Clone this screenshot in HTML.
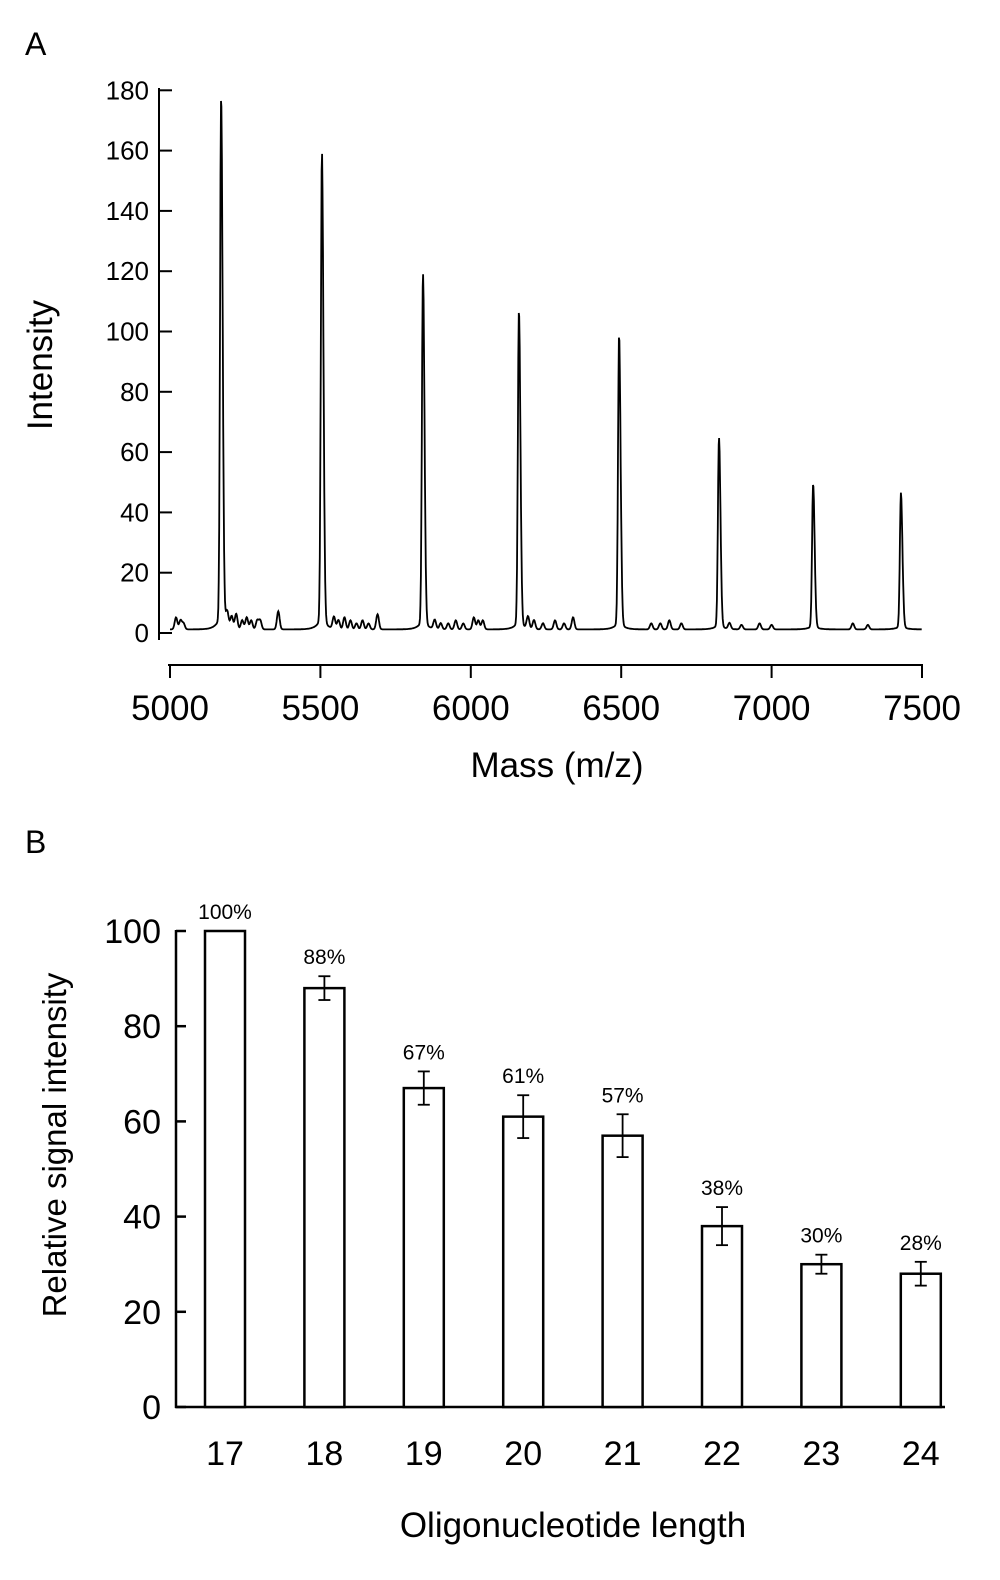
<!DOCTYPE html>
<html><head><meta charset="utf-8"><style>
body{margin:0;background:#fff}
svg text{font-family:"Liberation Sans",Arial,sans-serif;fill:#000}
</style></head><body>
<svg id="fig" width="1000" height="1575" viewBox="0 0 1000 1575" xmlns="http://www.w3.org/2000/svg">
<text x="25" y="55" font-size="32">A</text>
<text x="25" y="853" font-size="32">B</text>
<g id="a"></g>
<g id="b"></g>
</svg>
<script>
const peakMasses=[5170,5505,5841,6160,6493,6825,7138,7430];
const peakHeights=[172,154,115,103,95,62,47,44];
const noiseMasses=[5020,5035,5045,5190,5205,5220,5240,5255,5270,5290,5300,5360,5545,5560,5580,5600,5620,5640,5660,5690,5880,5900,5925,5950,5975,6010,6025,6040,6190,6210,6240,6280,6310,6340,6600,6630,6660,6700,6860,6900,6960,7000,7270,7320];
const noiseHeights=[4,3,2,5,4,5,3,4,3,3,3,6,4,3,4,3,2,3,2,5,3,2,2,3,2,4,3,3,4,3,2,3,2,4,2,2,3,2,2,1.5,2,1.5,2,1.5];
const yTicksA=[0,20,40,60,80,100,120,140,160,180];
const xTicksA=[5000,5500,6000,6500,7000,7500];
const categories=["17","18","19","20","21","22","23","24"];
const values=[100,88,67,61,57,38,30,28];
const errors=[0,2.5,3.5,4.5,4.5,4,2,2.5];
const valueLabels=["100%","88%","67%","61%","57%","38%","30%","28%"];
const yTicksB=[0,20,40,60,80,100];

const NS="http://www.w3.org/2000/svg";
function mk(p,t,a){const e=document.createElementNS(NS,t);for(const k in a)e.setAttribute(k,a[k]);p.appendChild(e);return e;}
// Panel A
const A=document.getElementById('a');
const xA=m=>170+(m-5000)/500*150.4;
const yA=v=>633-v/20*60.3;
let l=mk(A,'line',{x1:159,y1:88,x2:159,y2:640,stroke:'#000','stroke-width':2});

yTicksA.forEach(v=>{
 let t=mk(A,'line',{x1:159,x2:172,y1:yA(v),y2:yA(v),stroke:'#000','stroke-width':2});
 
 let tx=mk(A,'text',{x:149,y:yA(v)+9,'font-size':26,'text-anchor':'end'});tx.textContent=v;
 
});
l=mk(A,'line',{x1:168,y1:665,x2:923,y2:665,stroke:'#000','stroke-width':2});

xTicksA.forEach(v=>{
 let t=mk(A,'line',{x1:xA(v),x2:xA(v),y1:665,y2:678,stroke:'#000','stroke-width':2});
 
 let tx=mk(A,'text',{x:xA(v),y:720,'font-size':35,'text-anchor':'middle'});tx.textContent=v;
 
});
let t=mk(A,'text',{x:557,y:777,'font-size':35,'text-anchor':'middle'});t.textContent='Mass (m/z)';

t=mk(A,'text',{x:0,y:0,'font-size':35,'text-anchor':'middle',transform:'translate(52,365) rotate(-90)'});t.textContent='Intensity';

let pts=[];
for(let m=5000;m<=7500;m+=1.5){
 let v=1.2;
 peakMasses.forEach((p,i)=>{const d=m-p;const s=d<0?3.5:5;v+=peakHeights[i]*Math.exp(-d*d/(2*s*s))+peakHeights[i]*0.03*Math.exp(-Math.abs(d)/15);});
 noiseMasses.forEach((p,i)=>{const d=m-p;v+=noiseHeights[i]*Math.exp(-d*d/(2*20));});
 pts.push(xA(m).toFixed(1)+','+yA(v).toFixed(1));
}
let sp=mk(A,'polyline',{points:pts.join(' '),fill:'none',stroke:'#000','stroke-width':1.8});

// Panel B
const B=document.getElementById('b');
const yB=v=>1407-v/20*95.2;
const xB=i=>225+i*99.4;
l=mk(B,'line',{x1:176,y1:930,x2:176,y2:1408,stroke:'#000','stroke-width':2.5});

l=mk(B,'line',{x1:175,y1:1407,x2:945,y2:1407,stroke:'#000','stroke-width':2.5});

yTicksB.forEach(v=>{
 let tk=mk(B,'line',{x1:176,x2:186,y1:yB(v),y2:yB(v),stroke:'#000','stroke-width':2.5});
 
 let tx=mk(B,'text',{x:161,y:yB(v)+12,'font-size':34,'text-anchor':'end'});tx.textContent=v;
 
});
categories.forEach((c,i)=>{
 const cx=xB(i);
 let r=mk(B,'rect',{x:cx-20,y:yB(values[i]),width:40,height:yB(0)-yB(values[i]),fill:'#fff',stroke:'#000','stroke-width':2.5});
 
 if(errors[i]>0){
  const g=mk(B,'g',{stroke:'#000','stroke-width':1.8});
  
  mk(g,'line',{x1:cx,x2:cx,y1:yB(values[i]+errors[i]),y2:yB(values[i]-errors[i])});
  mk(g,'line',{x1:cx-6,x2:cx+6,y1:yB(values[i]+errors[i]),y2:yB(values[i]+errors[i])});
  mk(g,'line',{x1:cx-6,x2:cx+6,y1:yB(values[i]-errors[i]),y2:yB(values[i]-errors[i])});
 }
 let lb=mk(B,'text',{x:cx,y:yB(values[i]+errors[i])-12,'font-size':21,'text-anchor':'middle'});lb.textContent=valueLabels[i];
 
 let tx=mk(B,'text',{x:cx,y:1465,'font-size':34,'text-anchor':'middle'});tx.textContent=c;
 
});
t=mk(B,'text',{x:573,y:1537,'font-size':35,'text-anchor':'middle'});t.textContent='Oligonucleotide length';

t=mk(B,'text',{x:0,y:0,'font-size':33,'text-anchor':'middle',transform:'translate(66,1145) rotate(-90)'});t.textContent='Relative signal intensity';

</script>
</body></html>
